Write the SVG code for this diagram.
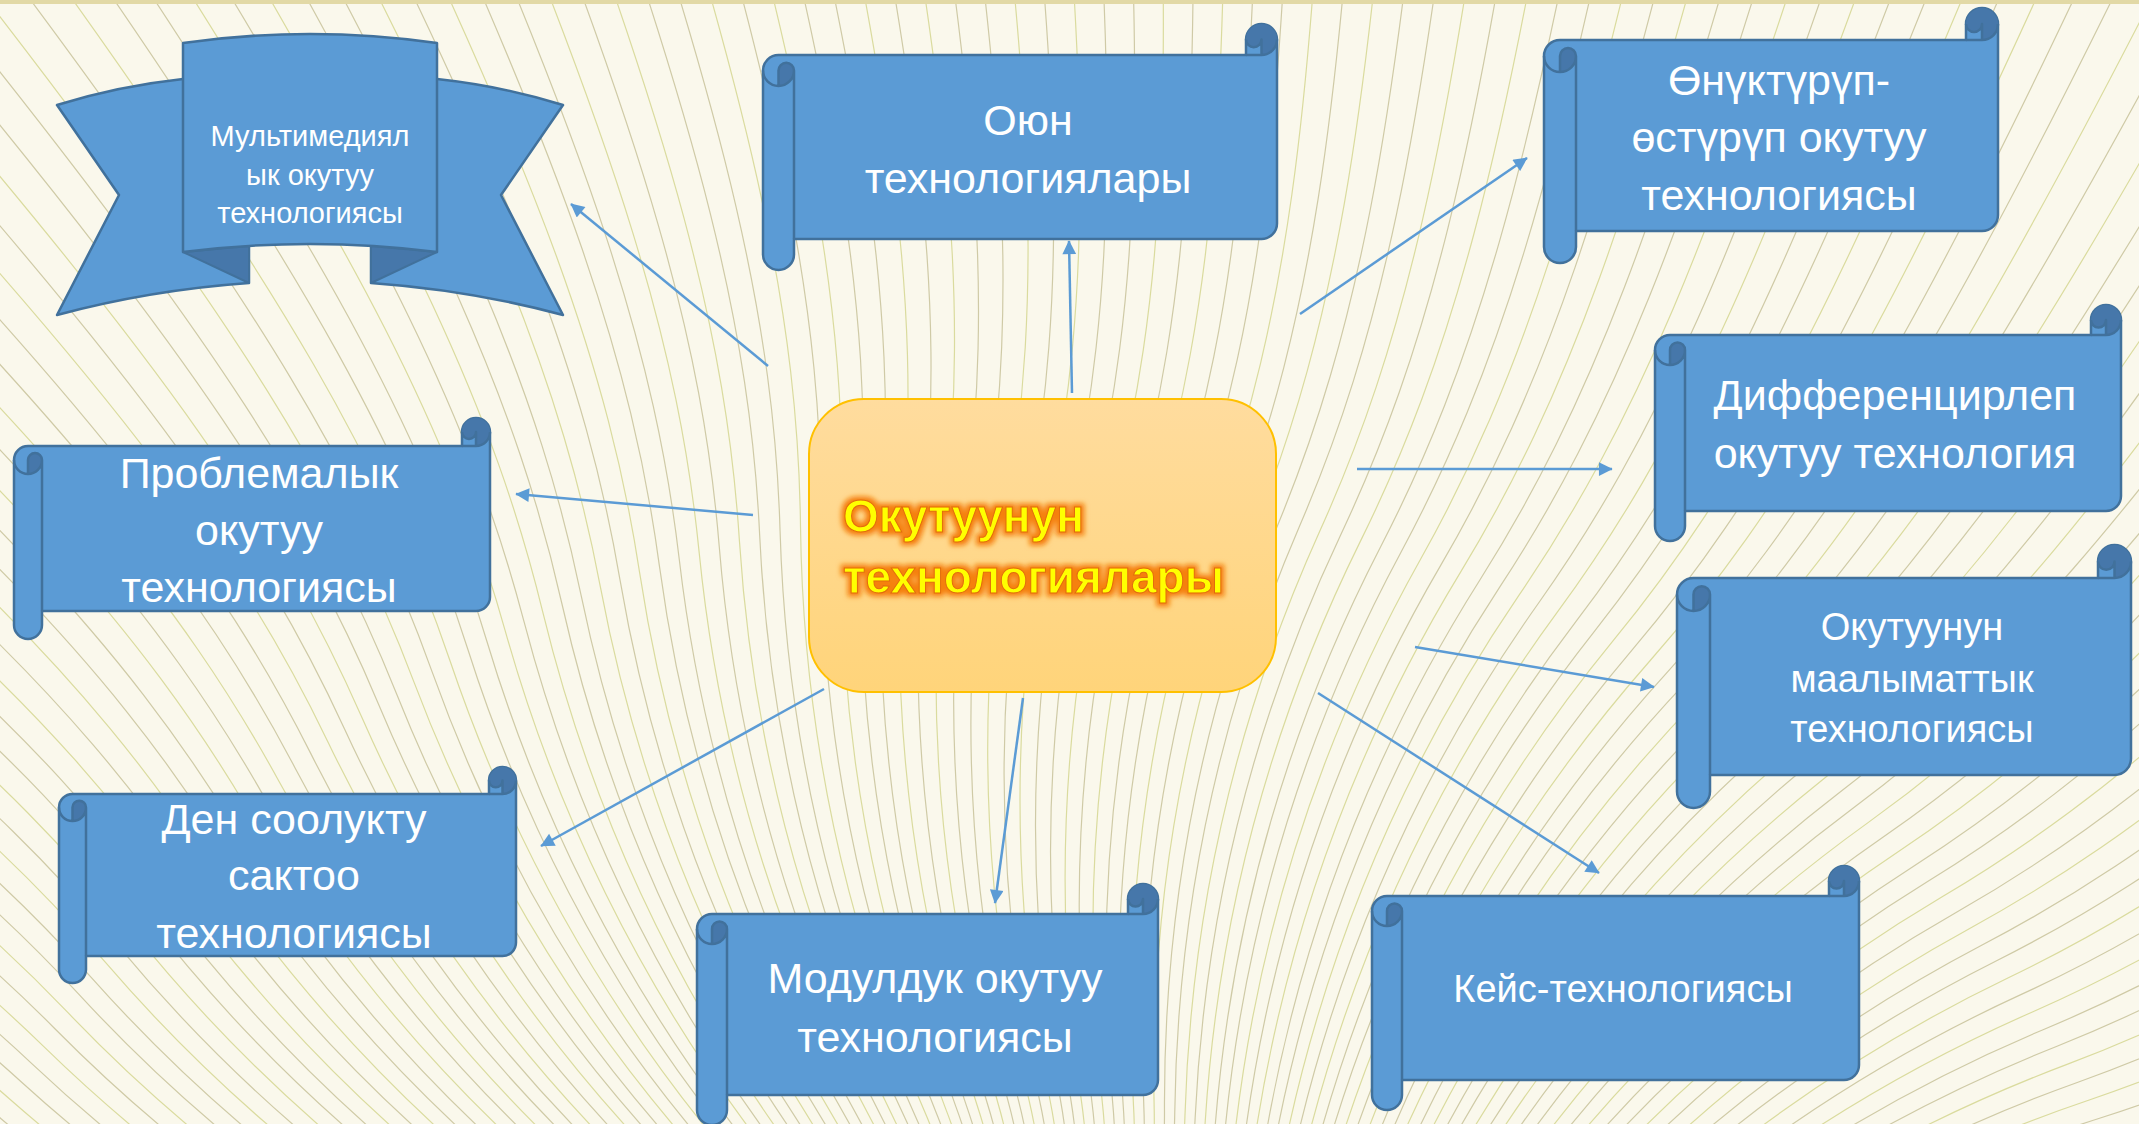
<svg xmlns="http://www.w3.org/2000/svg" xmlns:xlink="http://www.w3.org/1999/xlink" width="2139" height="1124" viewBox="0 0 2139 1124">
<style>
.bg{fill:#FAF8EC}
.wave{fill:none;stroke:#CFCAA6;stroke-width:1.2}
.wy{stroke:#DADB9E}
.sb{fill:#5B9BD5;stroke:#41719C;stroke-width:2.5;stroke-linejoin:round}
.sd{fill:#4677AA}
.sl{fill:none;stroke:#41719C;stroke-width:2.5;stroke-linejoin:round}
.st{fill:#FFFFFF;font-family:"Liberation Sans",Arial,sans-serif;text-anchor:middle}
.s43{font-size:43px}
.s38{font-size:38px}
.s29{font-size:29px}
.conn{fill:none;stroke:#5B9BD5;stroke-width:2.5;marker-end:url(#ah)}
.ct{font-family:"Liberation Sans",Arial,sans-serif;font-weight:bold;font-size:46px;fill:#FFFF00;stroke:#E26B0A;stroke-width:1}
</style>
<defs>
<marker id="ah" viewBox="0 0 10 10" refX="9.5" refY="5" markerWidth="6" markerHeight="5.5" orient="auto" markerUnits="strokeWidth">
<path d="M0,0 L10,5 L0,10 Z" fill="#5B9BD5"/>
</marker>
<linearGradient id="cg" x1="0" y1="0" x2="0" y2="1">
<stop offset="0" stop-color="#FFDC9E"/>
<stop offset="1" stop-color="#FFD47A"/>
</linearGradient>
<filter id="glow" x="-10%" y="-40%" width="120%" height="180%">
<feMorphology in="SourceAlpha" operator="dilate" radius="2.5" result="d"/>
<feGaussianBlur in="d" stdDeviation="2.5" result="b"/>
<feFlood flood-color="#F5800F" flood-opacity="1"/>
<feComposite in2="b" operator="in" result="g"/>
<feMerge><feMergeNode in="g"/><feMergeNode in="SourceGraphic"/></feMerge>
</filter>
<path id="ray" d="M1050,1700 C1010,1500 1090,1300 1050,1100 S1010,700 1050,500 S1090,100 1050,-300 S1010,-700 1050,-900"/>
<g id="f5">
<use xlink:href="#ray"/>
<use xlink:href="#ray" class="wy" transform="rotate(1 1050 1700)"/>
<use xlink:href="#ray" transform="rotate(2 1050 1700)"/>
<use xlink:href="#ray" class="wy" transform="rotate(3 1050 1700)"/>
<use xlink:href="#ray" transform="rotate(4 1050 1700)"/>
</g>
<g id="f30">
<use xlink:href="#f5"/>
<use xlink:href="#f5" transform="rotate(5 1050 1700)"/>
<use xlink:href="#f5" transform="rotate(10 1050 1700)"/>
<use xlink:href="#f5" transform="rotate(15 1050 1700)"/>
<use xlink:href="#f5" transform="rotate(20 1050 1700)"/>
<use xlink:href="#f5" transform="rotate(25 1050 1700)"/>
</g>
</defs>

<g id="background">
<rect class="bg" x="0" y="0" width="2139" height="1124"/>
<g class="wave">
<use xlink:href="#f30" transform="rotate(-68 1050 1700)"/>
<use xlink:href="#f30" transform="rotate(-38 1050 1700)"/>
<use xlink:href="#f30" transform="rotate(-8 1050 1700)"/>
<use xlink:href="#f30" transform="rotate(22 1050 1700)"/>
<use xlink:href="#f30" transform="rotate(52 1050 1700)"/>
</g>
<rect x="0" y="0" width="2139" height="4" fill="#E2D9A6"/>
</g>

<g id="connectors">
<line class="conn" x1="768" y1="366" x2="571" y2="204"/>
<line class="conn" x1="1072" y1="393" x2="1069" y2="241"/>
<line class="conn" x1="1300" y1="314" x2="1527" y2="158"/>
<line class="conn" x1="1357" y1="469" x2="1612" y2="469"/>
<line class="conn" x1="1415" y1="647" x2="1654" y2="687"/>
<line class="conn" x1="1318" y1="693" x2="1599" y2="873"/>
<line class="conn" x1="1023" y1="698" x2="995" y2="903"/>
<line class="conn" x1="824" y1="689" x2="541" y2="846"/>
<line class="conn" x1="753" y1="515" x2="516" y2="494"/>
</g>

<g id="node-multimedia">
<path class="sb" d="M57,105 Q118,86 183,79 L249,79 L249,283 Q150,290 57,315 L119,195 Z"/>
<path class="sb" d="M563,105 Q502,86 437,79 L371,79 L371,283 Q470,290 563,315 L501,195 Z"/>
<path class="sd" d="M183,252 L249,283 L249,246 Z" stroke="#41719C" stroke-width="2" stroke-linejoin="round"/>
<path class="sd" d="M437,252 L371,283 L371,246 Z" stroke="#41719C" stroke-width="2" stroke-linejoin="round"/>
<path class="sb" d="M183,43 Q310,25 437,43 L437,252 Q310,236 183,252 Z"/>
<text class="st s29" x="310" y="146">Мультимедиял</text>
<text class="st s29" x="310" y="185">ык окутуу</text>
<text class="st s29" x="310" y="223">технологиясы</text>
</g>

<g id="node-oyun" transform="translate(763,24)">
<path class="sb" d="M0,46.5 A15.5,15.5 0 0 1 15.5,31 L483,31 L483,15.5 A15.5,15.5 0 0 1 514,15.5 L514,199.5 A15.5,15.5 0 0 1 498.5,215 L31,215 L31,230.5 A15.5,15.5 0 0 1 0,230.5 Z"/>
<path class="sd" d="M15.5,62 L15.5,46.5 A7.75,7.75 0 0 1 31,46.5 A15.5,15.5 0 0 1 15.5,62 Z M498.5,31 A15.5,15.5 0 1 0 483,15.5 A7.75,7.75 0 0 0 498.5,15.5 Z"/>
<path class="sl" d="M483,31 L498.5,31 A15.5,15.5 0 0 0 514,15.5 M498.5,31 L498.5,15.5 A7.75,7.75 0 0 1 483,15.5 M15.5,62 L15.5,46.5 A7.75,7.75 0 0 1 31,46.5 A15.5,15.5 0 0 1 0,46.5 M31,46.5 L31,215"/>
<text class="st s43" x="265" y="111">Оюн</text>
<text class="st s43" x="265" y="169">технологиялары</text>
</g>

<g id="node-onuktuurup" transform="translate(1544,8)">
<path class="sb" d="M0,48 A16,16 0 0 1 16,32 L422,32 L422,16 A16,16 0 0 1 454,16 L454,207 A16,16 0 0 1 438,223 L32,223 L32,239 A16,16 0 0 1 0,239 Z"/>
<path class="sd" d="M16,64 L16,48 A8,8 0 0 1 32,48 A16,16 0 0 1 16,64 Z M438,32 A16,16 0 1 0 422,16 A8,8 0 0 0 438,16 Z"/>
<path class="sl" d="M422,32 L438,32 A16,16 0 0 0 454,16 M438,32 L438,16 A8,8 0 0 1 422,16 M16,64 L16,48 A8,8 0 0 1 32,48 A16,16 0 0 1 0,48 M32,48 L32,223"/>
<text class="st s43" x="235" y="87">Өнүктүрүп-</text>
<text class="st s43" x="235" y="144">өстүрүп окутуу</text>
<text class="st s43" x="235" y="202">технологиясы</text>
</g>

<g id="node-differential" transform="translate(1655,305)">
<path class="sb" d="M0,45 A15,15 0 0 1 15,30 L436,30 L436,15 A15,15 0 0 1 466,15 L466,191 A15,15 0 0 1 451,206 L30,206 L30,221 A15,15 0 0 1 0,221 Z"/>
<path class="sd" d="M15,60 L15,45 A7.5,7.5 0 0 1 30,45 A15,15 0 0 1 15,60 Z M451,30 A15,15 0 1 0 436,15 A7.5,7.5 0 0 0 451,15 Z"/>
<path class="sl" d="M436,30 L451,30 A15,15 0 0 0 466,15 M451,30 L451,15 A7.5,7.5 0 0 1 436,15 M15,60 L15,45 A7.5,7.5 0 0 1 30,45 A15,15 0 0 1 0,45 M30,45 L30,206"/>
<text class="st s43" x="240" y="105">Дифференцирлеп</text>
<text class="st s43" x="240" y="163">окутуу технология</text>
</g>

<g id="node-information" transform="translate(1677,545)">
<path class="sb" d="M0,49.5 A16.5,16.5 0 0 1 16.5,33 L421,33 L421,16.5 A16.5,16.5 0 0 1 454,16.5 L454,213.5 A16.5,16.5 0 0 1 437.5,230 L33,230 L33,246.5 A16.5,16.5 0 0 1 0,246.5 Z"/>
<path class="sd" d="M16.5,66 L16.5,49.5 A8.25,8.25 0 0 1 33,49.5 A16.5,16.5 0 0 1 16.5,66 Z M437.5,33 A16.5,16.5 0 1 0 421,16.5 A8.25,8.25 0 0 0 437.5,16.5 Z"/>
<path class="sl" d="M421,33 L437.5,33 A16.5,16.5 0 0 0 454,16.5 M437.5,33 L437.5,16.5 A8.25,8.25 0 0 1 421,16.5 M16.5,66 L16.5,49.5 A8.25,8.25 0 0 1 33,49.5 A16.5,16.5 0 0 1 0,49.5 M33,49.5 L33,230"/>
<text class="st s38" x="235" y="95">Окутуунун</text>
<text class="st s38" x="235" y="147">маалыматтык</text>
<text class="st s38" x="235" y="197">технологиясы</text>
</g>

<g id="node-case" transform="translate(1372,866)">
<path class="sb" d="M0,45 A15,15 0 0 1 15,30 L457,30 L457,15 A15,15 0 0 1 487,15 L487,199 A15,15 0 0 1 472,214 L30,214 L30,229 A15,15 0 0 1 0,229 Z"/>
<path class="sd" d="M15,60 L15,45 A7.5,7.5 0 0 1 30,45 A15,15 0 0 1 15,60 Z M472,30 A15,15 0 1 0 457,15 A7.5,7.5 0 0 0 472,15 Z"/>
<path class="sl" d="M457,30 L472,30 A15,15 0 0 0 487,15 M472,30 L472,15 A7.5,7.5 0 0 1 457,15 M15,60 L15,45 A7.5,7.5 0 0 1 30,45 A15,15 0 0 1 0,45 M30,45 L30,214"/>
<text class="st s38" x="251" y="136">Кейс-технологиясы</text>
</g>

<g id="node-modular" transform="translate(697,884)">
<path class="sb" d="M0,45 A15,15 0 0 1 15,30 L431,30 L431,15 A15,15 0 0 1 461,15 L461,196 A15,15 0 0 1 446,211 L30,211 L30,226 A15,15 0 0 1 0,226 Z"/>
<path class="sd" d="M15,60 L15,45 A7.5,7.5 0 0 1 30,45 A15,15 0 0 1 15,60 Z M446,30 A15,15 0 1 0 431,15 A7.5,7.5 0 0 0 446,15 Z"/>
<path class="sl" d="M431,30 L446,30 A15,15 0 0 0 461,15 M446,30 L446,15 A7.5,7.5 0 0 1 431,15 M15,60 L15,45 A7.5,7.5 0 0 1 30,45 A15,15 0 0 1 0,45 M30,45 L30,211"/>
<text class="st s43" x="238" y="109">Модулдук окутуу</text>
<text class="st s43" x="238" y="168">технологиясы</text>
</g>

<g id="node-health" transform="translate(59,767)">
<path class="sb" d="M0,40.5 A13.5,13.5 0 0 1 13.5,27 L430,27 L430,13.5 A13.5,13.5 0 0 1 457,13.5 L457,175.5 A13.5,13.5 0 0 1 443.5,189 L27,189 L27,202.5 A13.5,13.5 0 0 1 0,202.5 Z"/>
<path class="sd" d="M13.5,54 L13.5,40.5 A6.75,6.75 0 0 1 27,40.5 A13.5,13.5 0 0 1 13.5,54 Z M443.5,27 A13.5,13.5 0 1 0 430,13.5 A6.75,6.75 0 0 0 443.5,13.5 Z"/>
<path class="sl" d="M430,27 L443.5,27 A13.5,13.5 0 0 0 457,13.5 M443.5,27 L443.5,13.5 A6.75,6.75 0 0 1 430,13.5 M13.5,54 L13.5,40.5 A6.75,6.75 0 0 1 27,40.5 A13.5,13.5 0 0 1 0,40.5 M27,40.5 L27,189"/>
<text class="st s43" x="235" y="67">Ден соолукту</text>
<text class="st s43" x="235" y="123">сактоо</text>
<text class="st s43" x="235" y="181">технологиясы</text>
</g>

<g id="node-problem" transform="translate(14,418)">
<path class="sb" d="M0,42 A14,14 0 0 1 14,28 L448,28 L448,14 A14,14 0 0 1 476,14 L476,179 A14,14 0 0 1 462,193 L28,193 L28,207 A14,14 0 0 1 0,207 Z"/>
<path class="sd" d="M14,56 L14,42 A7,7 0 0 1 28,42 A14,14 0 0 1 14,56 Z M462,28 A14,14 0 1 0 448,14 A7,7 0 0 0 462,14 Z"/>
<path class="sl" d="M448,28 L462,28 A14,14 0 0 0 476,14 M462,28 L462,14 A7,7 0 0 1 448,14 M14,56 L14,42 A7,7 0 0 1 28,42 A14,14 0 0 1 0,42 M28,42 L28,193"/>
<text class="st s43" x="245" y="70">Проблемалык</text>
<text class="st s43" x="245" y="127">окутуу</text>
<text class="st s43" x="245" y="184">технологиясы</text>
</g>

<g id="node-center">
<rect x="809" y="399" width="467" height="293" rx="55" ry="55" fill="url(#cg)" stroke="#FFC000" stroke-width="2"/>
<g filter="url(#glow)">
<text class="ct" x="843" y="532">Окутуунун</text>
<text class="ct" x="843" y="593">технологиялары</text>
</g>
</g>
</svg>
